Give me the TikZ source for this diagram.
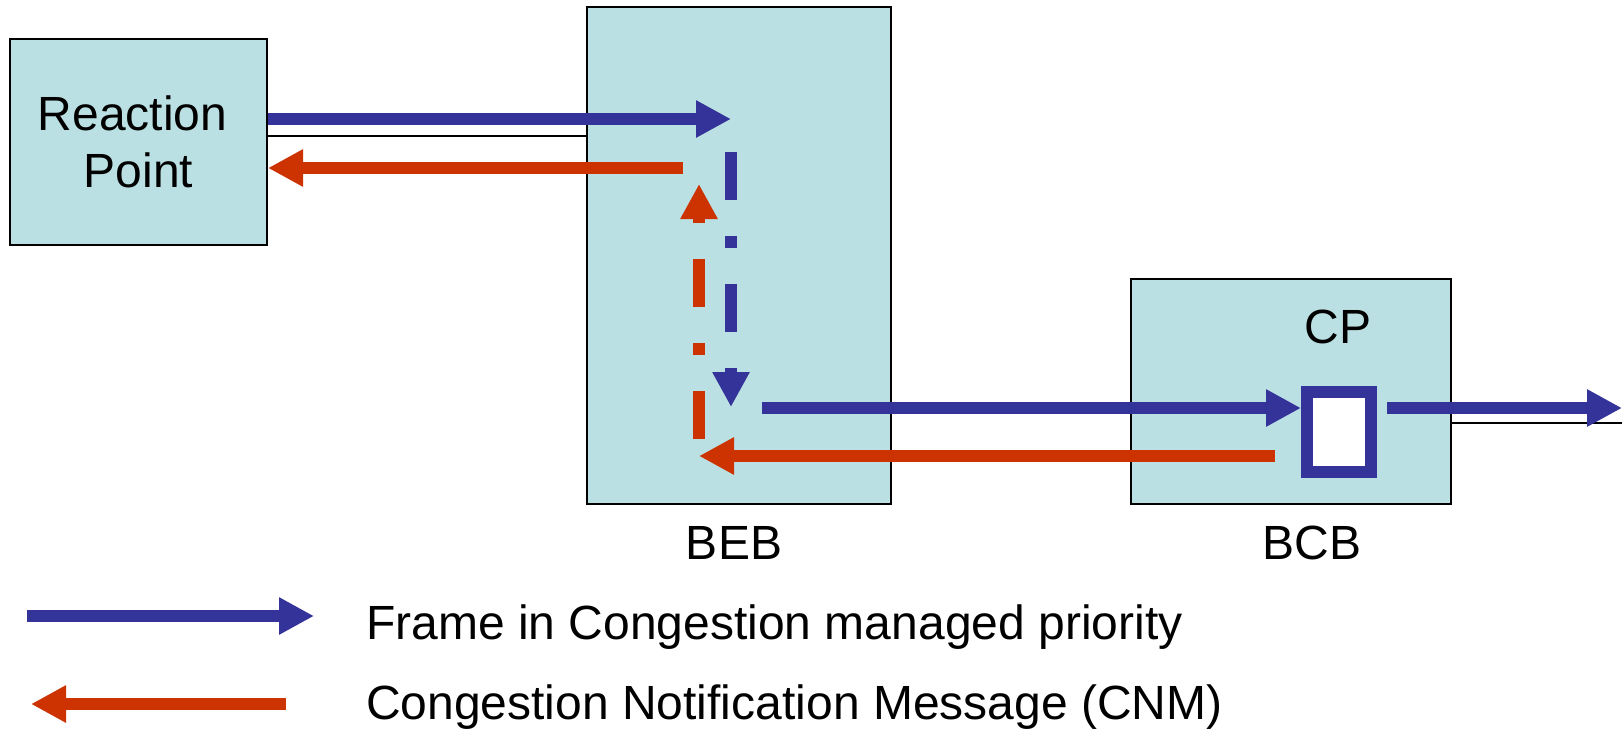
\documentclass[tikz,border=0pt]{standalone}
\usepackage{fontspec}
\setmainfont{Liberation Sans}
\usetikzlibrary{arrows.meta}
\definecolor{cmblue}{RGB}{51,51,153}
\definecolor{cnred}{RGB}{204,51,0}
\definecolor{boxfill}{RGB}{187,224,227}
\tikzset{
  box/.style={draw=black, line width=2pt, fill=boxfill, rectangle, inner sep=0pt},
  lbl/.style={anchor=base, inner sep=0pt, font=\fontsize{48}{57}\selectfont},
  link/.style={draw=black, line width=2pt},
  frame/.style={draw=cmblue, line width=12pt, -{Triangle[length=35pt,width=35pt]}},
  cnm/.style={draw=cnred, line width=12pt, -{Triangle[length=35pt,width=35pt]}},
  dashdot/.style={dash pattern=on 48pt off 36pt on 12pt off 36pt},
}
\begin{document}
\begin{tikzpicture}[x=1pt,y=-1pt]
\useasboundingbox (0,0) rectangle (1622,729);
% boxes
\node[box, minimum width=257pt, minimum height=206pt, align=center,
      font=\fontsize{48}{57}\selectfont] (RP) at (138.5,142) {Reaction\kern 12pt\\Point};
\node[box, minimum width=304pt, minimum height=497pt] (BEB) at (739,255.5) {};
\node[box, minimum width=320pt, minimum height=225pt] (BCB) at (1291,391.5) {};
\node[draw=cmblue, line width=12pt, fill=white, minimum width=64pt, minimum height=80pt, inner sep=0pt] (CP) at (1339,432) {};
% labels
\node[lbl] (BEBl) at (734,559) {BEB};
\node[lbl] (BCBl) at (1312,559) {BCB};
\node[lbl] (CPl) at (1338,343) {CP};
% coordinates
\coordinate (l1) at (587,136);
\coordinate (r1) at (1622,423);
\coordinate (a1) at (731,119);
\coordinate (a2s) at (683,168);
\coordinate (v1s) at (731,152);
\coordinate (v1e) at (731,407);
\coordinate (v2s) at (699,439);
\coordinate (v2e) at (699,184);
\coordinate (a5s) at (1275,456);
\coordinate (a5e) at (699,456);
\coordinate (a6s) at (762,408);
\coordinate (a7s) at (1387,408);
\coordinate (a7e) at (1622,408);
% thin links
\draw[link] (RP.east |- l1) -- (l1);
\draw[link] (BCB.east |- r1) -- (r1);
% arrows
\draw[frame] (RP.east |- a1) -- (a1);
\draw[cnm] (a2s) -- (RP.east |- a2s);
\draw[frame, dashdot] (v1s) -- (v1e);
\draw[cnm, dashdot] (v2s) -- (v2e);
\draw[cnm] (a5s) -- (a5e);
\draw[frame] (a6s) -- (CP.west |- a6s);
\draw[frame] (a7s) -- (a7e);
% legend
\coordinate (lb1) at (27,616);
\coordinate (lb2) at (314,616);
\coordinate (lr1) at (286,704);
\coordinate (lr2) at (31,704);
\draw[frame] (lb1) -- (lb2);
\draw[cnm] (lr1) -- (lr2);
\node[lbl, anchor=base west] (t1) at (366,639) {Frame in Congestion managed priority};
\node[lbl, anchor=base west] (t2) at (366,719) {Congestion Notification Message (CNM)};
\end{tikzpicture}
\end{document}
